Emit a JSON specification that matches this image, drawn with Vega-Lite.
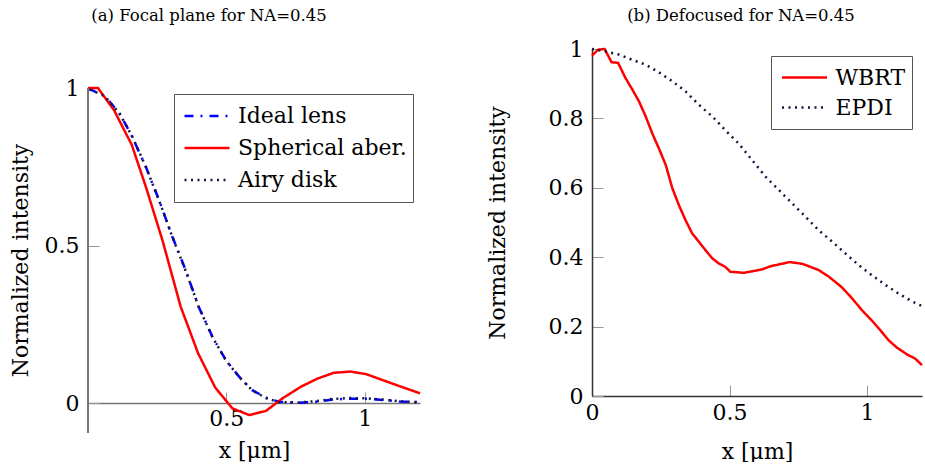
{
  "$schema": "https://vega.github.io/schema/vega-lite/v6.json",
  "padding": {"left": 9, "top": 8, "right": 0, "bottom": 0},
  "spacing": 61,
  "resolve": {"scale": {"color": "independent", "strokeDash": "independent", "x": "independent", "y": "independent"}, "legend": {"color": "independent", "strokeDash": "independent"}},
  "config": {
    "font": "DejaVu Serif",
    "view": {"stroke": null},
    "axis": {"labelFont": "DejaVu Serif", "titleFont": "DejaVu Serif", "labelFontSize": 22, "titleFontSize": 22, "titleFontWeight": "normal", "labelColor": "#000", "titleColor": "#000", "grid": false, "labelFlush": false, "labelOverlap": false, "format": "~g"},
    "legend": {"labelFont": "DejaVu Serif", "labelFontSize": 22, "labelColor": "#000", "symbolType": "stroke", "symbolSize": 2025, "symbolStrokeWidth": 2.5, "strokeColor": "#555", "fillColor": "#fff", "padding": 6, "symbolOffset": 3, "labelOffset": 7, "labelLimit": 400},
    "title": {"font": "DejaVu Serif", "fontSize": 16.5, "fontWeight": "normal", "color": "#000"}
  },
  "datasets": {
    "focal": [
      {"series": "Ideal lens", "x": 0, "intensity": 1},
      {"series": "Ideal lens", "x": 0.064, "intensity": 0.972},
      {"series": "Ideal lens", "x": 0.118, "intensity": 0.914},
      {"series": "Ideal lens", "x": 0.16, "intensity": 0.845},
      {"series": "Ideal lens", "x": 0.209, "intensity": 0.75},
      {"series": "Ideal lens", "x": 0.257, "intensity": 0.644},
      {"series": "Ideal lens", "x": 0.305, "intensity": 0.528},
      {"series": "Ideal lens", "x": 0.353, "intensity": 0.422},
      {"series": "Ideal lens", "x": 0.4, "intensity": 0.306},
      {"series": "Ideal lens", "x": 0.45, "intensity": 0.21},
      {"series": "Ideal lens", "x": 0.498, "intensity": 0.137},
      {"series": "Ideal lens", "x": 0.546, "intensity": 0.084},
      {"series": "Ideal lens", "x": 0.594, "intensity": 0.041},
      {"series": "Ideal lens", "x": 0.643, "intensity": 0.017},
      {"series": "Ideal lens", "x": 0.69, "intensity": 0.004},
      {"series": "Ideal lens", "x": 0.763, "intensity": 0.001},
      {"series": "Ideal lens", "x": 0.824, "intensity": 0.004},
      {"series": "Ideal lens", "x": 0.884, "intensity": 0.011},
      {"series": "Ideal lens", "x": 0.945, "intensity": 0.014},
      {"series": "Ideal lens", "x": 1.005, "intensity": 0.014},
      {"series": "Ideal lens", "x": 1.065, "intensity": 0.01},
      {"series": "Ideal lens", "x": 1.125, "intensity": 0.005},
      {"series": "Ideal lens", "x": 1.2, "intensity": 0.003},
      {"series": "Spherical aber.", "x": 0, "intensity": 1},
      {"series": "Spherical aber.", "x": 0.036, "intensity": 1},
      {"series": "Spherical aber.", "x": 0.094, "intensity": 0.93},
      {"series": "Spherical aber.", "x": 0.158, "intensity": 0.82},
      {"series": "Spherical aber.", "x": 0.209, "intensity": 0.687},
      {"series": "Spherical aber.", "x": 0.269, "intensity": 0.517},
      {"series": "Spherical aber.", "x": 0.335, "intensity": 0.306},
      {"series": "Spherical aber.", "x": 0.398, "intensity": 0.158},
      {"series": "Spherical aber.", "x": 0.46, "intensity": 0.049},
      {"series": "Spherical aber.", "x": 0.522, "intensity": -0.017},
      {"series": "Spherical aber.", "x": 0.583, "intensity": -0.038},
      {"series": "Spherical aber.", "x": 0.643, "intensity": -0.025},
      {"series": "Spherical aber.", "x": 0.703, "intensity": 0.015},
      {"series": "Spherical aber.", "x": 0.77, "intensity": 0.052},
      {"series": "Spherical aber.", "x": 0.83, "intensity": 0.078},
      {"series": "Spherical aber.", "x": 0.888, "intensity": 0.096},
      {"series": "Spherical aber.", "x": 0.948, "intensity": 0.1},
      {"series": "Spherical aber.", "x": 1.005, "intensity": 0.092},
      {"series": "Spherical aber.", "x": 1.065, "intensity": 0.073},
      {"series": "Spherical aber.", "x": 1.125, "intensity": 0.054},
      {"series": "Spherical aber.", "x": 1.2, "intensity": 0.031},
      {"series": "Airy disk", "x": 0.006, "intensity": 0.995},
      {"series": "Airy disk", "x": 0.06, "intensity": 0.975},
      {"series": "Airy disk", "x": 0.115, "intensity": 0.918},
      {"series": "Airy disk", "x": 0.16, "intensity": 0.846},
      {"series": "Airy disk", "x": 0.209, "intensity": 0.75},
      {"series": "Airy disk", "x": 0.257, "intensity": 0.643},
      {"series": "Airy disk", "x": 0.305, "intensity": 0.527},
      {"series": "Airy disk", "x": 0.353, "intensity": 0.42},
      {"series": "Airy disk", "x": 0.4, "intensity": 0.305},
      {"series": "Airy disk", "x": 0.45, "intensity": 0.209},
      {"series": "Airy disk", "x": 0.498, "intensity": 0.136},
      {"series": "Airy disk", "x": 0.546, "intensity": 0.083},
      {"series": "Airy disk", "x": 0.594, "intensity": 0.04},
      {"series": "Airy disk", "x": 0.643, "intensity": 0.016},
      {"series": "Airy disk", "x": 0.69, "intensity": 0.003},
      {"series": "Airy disk", "x": 0.763, "intensity": 0.002},
      {"series": "Airy disk", "x": 0.824, "intensity": 0.006},
      {"series": "Airy disk", "x": 0.884, "intensity": 0.013},
      {"series": "Airy disk", "x": 0.945, "intensity": 0.016},
      {"series": "Airy disk", "x": 1.005, "intensity": 0.015},
      {"series": "Airy disk", "x": 1.065, "intensity": 0.011},
      {"series": "Airy disk", "x": 1.125, "intensity": 0.006},
      {"series": "Airy disk", "x": 1.2, "intensity": 0.002}
    ],
    "defocus": [
      {"series": "WBRT", "x": 0, "intensity": 0.981},
      {"series": "WBRT", "x": 0.022, "intensity": 0.998},
      {"series": "WBRT", "x": 0.046, "intensity": 1.0},
      {"series": "WBRT", "x": 0.071, "intensity": 0.962},
      {"series": "WBRT", "x": 0.095, "intensity": 0.96},
      {"series": "WBRT", "x": 0.122, "intensity": 0.916},
      {"series": "WBRT", "x": 0.146, "intensity": 0.884},
      {"series": "WBRT", "x": 0.171, "intensity": 0.849},
      {"series": "WBRT", "x": 0.195, "intensity": 0.806},
      {"series": "WBRT", "x": 0.219, "intensity": 0.757},
      {"series": "WBRT", "x": 0.243, "intensity": 0.714},
      {"series": "WBRT", "x": 0.268, "intensity": 0.666},
      {"series": "WBRT", "x": 0.292, "intensity": 0.599},
      {"series": "WBRT", "x": 0.316, "intensity": 0.55},
      {"series": "WBRT", "x": 0.34, "intensity": 0.507},
      {"series": "WBRT", "x": 0.364, "intensity": 0.469},
      {"series": "WBRT", "x": 0.388, "intensity": 0.445},
      {"series": "WBRT", "x": 0.412, "intensity": 0.421},
      {"series": "WBRT", "x": 0.437, "intensity": 0.397},
      {"series": "WBRT", "x": 0.461, "intensity": 0.382},
      {"series": "WBRT", "x": 0.485, "intensity": 0.372},
      {"series": "WBRT", "x": 0.503, "intensity": 0.358},
      {"series": "WBRT", "x": 0.552, "intensity": 0.355},
      {"series": "WBRT", "x": 0.594, "intensity": 0.361},
      {"series": "WBRT", "x": 0.619, "intensity": 0.365},
      {"series": "WBRT", "x": 0.649, "intensity": 0.374},
      {"series": "WBRT", "x": 0.679, "intensity": 0.379},
      {"series": "WBRT", "x": 0.719, "intensity": 0.386},
      {"series": "WBRT", "x": 0.764, "intensity": 0.381},
      {"series": "WBRT", "x": 0.788, "intensity": 0.374},
      {"series": "WBRT", "x": 0.824, "intensity": 0.363},
      {"series": "WBRT", "x": 0.861, "intensity": 0.344},
      {"series": "WBRT", "x": 0.909, "intensity": 0.313},
      {"series": "WBRT", "x": 0.946, "intensity": 0.281},
      {"series": "WBRT", "x": 0.982, "intensity": 0.247},
      {"series": "WBRT", "x": 1.018, "intensity": 0.217},
      {"series": "WBRT", "x": 1.048, "intensity": 0.19},
      {"series": "WBRT", "x": 1.078, "intensity": 0.161},
      {"series": "WBRT", "x": 1.108, "intensity": 0.14},
      {"series": "WBRT", "x": 1.145, "intensity": 0.12},
      {"series": "WBRT", "x": 1.175, "intensity": 0.108},
      {"series": "WBRT", "x": 1.2, "intensity": 0.089},
      {"series": "EPDI", "x": 0, "intensity": 1.0},
      {"series": "EPDI", "x": 0.05, "intensity": 0.993},
      {"series": "EPDI", "x": 0.098, "intensity": 0.984},
      {"series": "EPDI", "x": 0.146, "intensity": 0.969},
      {"series": "EPDI", "x": 0.195, "intensity": 0.955},
      {"series": "EPDI", "x": 0.243, "intensity": 0.933},
      {"series": "EPDI", "x": 0.292, "intensity": 0.907},
      {"series": "EPDI", "x": 0.34, "intensity": 0.878},
      {"series": "EPDI", "x": 0.389, "intensity": 0.839},
      {"series": "EPDI", "x": 0.437, "intensity": 0.806},
      {"series": "EPDI", "x": 0.486, "intensity": 0.765},
      {"series": "EPDI", "x": 0.534, "intensity": 0.727},
      {"series": "EPDI", "x": 0.582, "intensity": 0.68},
      {"series": "EPDI", "x": 0.631, "intensity": 0.632},
      {"series": "EPDI", "x": 0.679, "intensity": 0.594},
      {"series": "EPDI", "x": 0.728, "intensity": 0.555},
      {"series": "EPDI", "x": 0.776, "intensity": 0.517},
      {"series": "EPDI", "x": 0.824, "intensity": 0.478},
      {"series": "EPDI", "x": 0.873, "intensity": 0.445},
      {"series": "EPDI", "x": 0.921, "intensity": 0.411},
      {"series": "EPDI", "x": 0.97, "intensity": 0.377},
      {"series": "EPDI", "x": 1.018, "intensity": 0.348},
      {"series": "EPDI", "x": 1.067, "intensity": 0.32},
      {"series": "EPDI", "x": 1.115, "intensity": 0.295},
      {"series": "EPDI", "x": 1.163, "intensity": 0.273},
      {"series": "EPDI", "x": 1.2, "intensity": 0.259}
    ]
  },
  "hconcat": [
    {
      "width": 332,
      "height": 384,
      "title": {"text": "(a) Focal plane for NA=0.45", "anchor": "middle", "dx": -45, "offset": 24.5},
      "data": {"name": "focal"},
      "layer": [
        {
          "mark": {"type": "line", "strokeWidth": 2.5},
          "encoding": {
            "x": {"field": "x", "type": "quantitative", "scale": {"domain": [0, 1.2], "nice": false, "zero": false},
                  "axis": {"values": [0.5, 1], "offset": -30, "title": "x [μm]", "domainColor": "#777", "domainWidth": 1.5, "tickColor": "#999", "tickSize": -11, "tickWidth": 1, "labelPadding": 16, "titlePadding": 11}},
            "y": {"field": "intensity", "type": "quantitative", "scale": {"domain": [-0.095, 1.124], "nice": false, "zero": false},
                  "axis": {"values": [0, 0.5, 1], "domain": false, "title": "Normalized intensity", "tickColor": "#999", "tickSize": -11, "tickWidth": 1, "labelPadding": 20, "titlePadding": 12, "titleY": 211}},
            "color": {"field": "series", "type": "nominal",
                      "scale": {"domain": ["Ideal lens", "Spherical aber.", "Airy disk"], "range": ["#0000ff", "#ff0000", "#141440"]},
                      "legend": {"orient": "none", "legendX": 86, "legendY": 45, "title": null, "clipHeight": 32, "rowPadding": 0}},
            "strokeDash": {"field": "series", "type": "nominal",
                      "scale": {"domain": ["Ideal lens", "Spherical aber.", "Airy disk"], "range": [[9, 7, 2, 7], [1, 0], [2, 4.5]]},
                      "legend": {"orient": "none", "legendX": 86, "legendY": 45, "title": null, "clipHeight": 32, "rowPadding": 0}}
          }
        },
        {
          "mark": {"type": "rule", "color": "#777", "strokeWidth": 1.5},
          "encoding": {
            "x": {"datum": 0, "type": "quantitative"},
            "y": {"datum": -0.095, "type": "quantitative"},
            "y2": {"datum": 1}
          }
        }
      ]
    },
    {
      "width": 330,
      "height": 347,
      "title": {"text": "(b) Defocused for NA=0.45", "anchor": "middle", "dx": -16, "offset": 13.5},
      "data": {"name": "defocus"},
      "mark": {"type": "line", "strokeWidth": 2.5},
      "encoding": {
        "x": {"field": "x", "type": "quantitative", "scale": {"domain": [0, 1.2], "nice": false, "zero": false},
              "axis": {"values": [0, 0.5, 1], "title": "x [μm]", "domainColor": "#333", "domainWidth": 1.5, "tickColor": "#999", "tickSize": -11, "tickWidth": 1, "labelPadding": 17, "titlePadding": 18}},
        "y": {"field": "intensity", "type": "quantitative", "scale": {"domain": [0, 1], "nice": false},
              "axis": {"values": [0, 0.2, 0.4, 0.6, 0.8, 1], "title": "Normalized intensity", "domainColor": "#333", "domainWidth": 1.5, "tickColor": "#999", "tickSize": -11, "tickWidth": 1, "labelPadding": 20, "titlePadding": 39}},
        "color": {"field": "series", "type": "nominal",
                  "scale": {"domain": ["WBRT", "EPDI"], "range": ["#ff0000", "#141440"]},
                  "legend": {"orient": "none", "legendX": 179, "legendY": 7, "title": null, "clipHeight": 30, "rowPadding": 0, "padding": 6.5}},
        "strokeDash": {"field": "series", "type": "nominal",
                  "scale": {"domain": ["WBRT", "EPDI"], "range": [[1, 0], [2, 4.5]]},
                  "legend": {"orient": "none", "legendX": 179, "legendY": 7, "title": null, "clipHeight": 30, "rowPadding": 0, "padding": 6.5}}
      }
    }
  ]
}
